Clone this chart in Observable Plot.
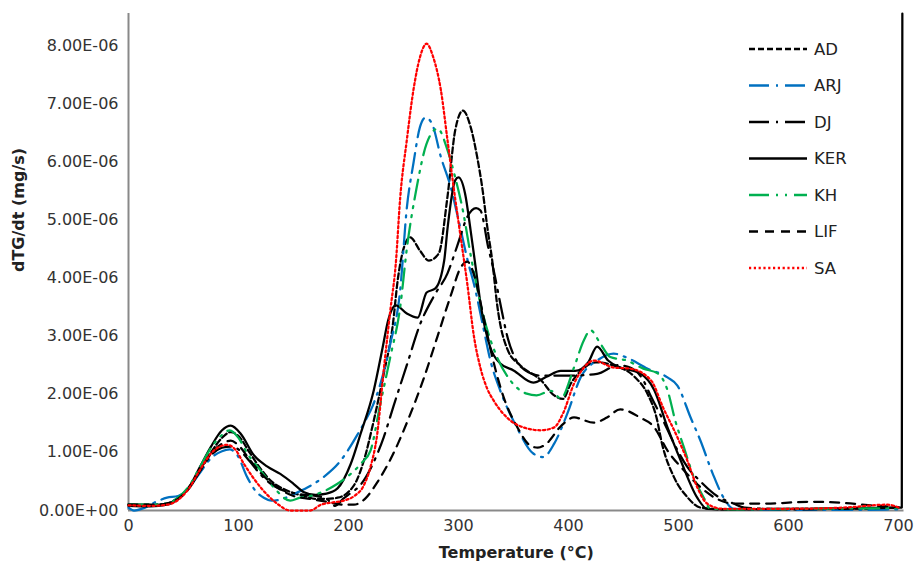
<!DOCTYPE html>
<html>
<head>
<meta charset="utf-8">
<script src="https://cdn.jsdelivr.net/npm/d3@7"></script>
<script src="https://cdn.jsdelivr.net/npm/@observablehq/plot@0.6"></script>
<style>
  body { margin: 0; background: #fff; }
  #wrap { position: relative; width: 917px; height: 567px; }
  #legend { position: absolute; left: 0; top: 0; }
</style>
</head>
<body>
<div id="wrap"></div>
<script>
// values in units of 1E-06 mg/s
const UNIT = 1e-6;
const seriesNames = ["AD", "ARJ", "DJ", "KER", "KH", "LIF", "SA"];

const AD_T = [0, 20, 35, 45, 55, 65, 75, 85, 93, 100, 110, 120, 130, 140, 150, 160, 170, 180, 190, 200, 207, 214, 223, 232, 240, 245, 250, 256, 265, 273, 282, 290, 297, 304, 311, 317, 322, 326, 331, 335, 345, 356, 375, 387, 395, 402, 414, 425, 440, 460, 472, 480, 485, 496, 508, 520, 540, 600, 650, 700];
const AD_V = [0.1, 0.09, 0.12, 0.22, 0.4, 0.7, 1.0, 1.25, 1.35, 1.28, 1.0, 0.72, 0.5, 0.38, 0.3, 0.25, 0.2, 0.2, 0.22, 0.32, 0.5, 0.86, 1.55, 2.35, 3.15, 4.0, 4.5, 4.7, 4.47, 4.3, 4.42, 5.4, 6.54, 6.88, 6.6, 6.08, 5.5, 4.9, 4.25, 3.56, 2.75, 2.5, 2.24, 1.98, 1.92, 2.18, 2.45, 2.55, 2.5, 2.3, 2.0, 1.6, 1.15, 0.57, 0.23, 0.05, 0.02, 0.03, 0.03, 0.05];

const ARJ_T = [0, 5, 15, 25, 35, 45, 55, 65, 75, 85, 92, 99, 108, 115, 123, 130, 140, 150, 163, 177, 193, 200, 208, 214, 222, 229, 238, 247, 253, 259, 265, 270, 276, 284, 293, 300, 309, 314, 322, 329, 338, 353, 368, 377, 387, 399, 411, 426, 441, 453, 472, 490, 499, 511, 520, 531, 541, 550, 600, 650, 700];
const ARJ_V = [0.05, 0.0, 0.05, 0.15, 0.22, 0.25, 0.4, 0.65, 0.9, 1.02, 1.05, 0.95, 0.57, 0.35, 0.22, 0.17, 0.2, 0.28, 0.4, 0.57, 0.86, 1.05, 1.3, 1.5, 1.8, 2.18, 2.87, 3.79, 5.2, 5.97, 6.6, 6.76, 6.65, 6.08, 5.56, 5.0, 4.25, 3.9, 3.2, 2.58, 2.06, 1.43, 0.98, 0.92, 1.15, 1.67, 2.29, 2.58, 2.7, 2.63, 2.44, 2.29, 2.15, 1.6, 1.2, 0.64, 0.22, 0.03, 0.01, 0.01, 0.02];

const DJ_T = [0, 20, 35, 45, 55, 65, 75, 85, 93, 100, 110, 120, 130, 140, 150, 160, 170, 180, 188, 195, 202, 210, 220, 232, 241, 253, 265, 278, 290, 299, 308, 316, 320, 327, 332, 338, 345, 352, 360, 375, 387, 400, 426, 445, 456, 468, 474, 486, 496, 508, 520, 535, 550, 560, 600, 650, 700];
const DJ_V = [0.1, 0.1, 0.12, 0.2, 0.38, 0.68, 0.95, 1.08, 1.1, 1.05, 0.85, 0.62, 0.45, 0.35, 0.3, 0.27, 0.25, 0.2, 0.08, 0.2, 0.3, 0.42, 0.72, 1.26, 1.8, 2.5, 3.2, 3.7, 4.08, 4.56, 5.05, 5.2, 5.16, 4.53, 4.13, 3.56, 2.95, 2.6, 2.42, 2.32, 2.32, 2.32, 2.35, 2.5, 2.46, 2.24, 2.0, 1.55, 1.15, 0.75, 0.5, 0.25, 0.12, 0.05, 0.02, 0.03, 0.05];

const KER_T = [0, 20, 35, 45, 55, 65, 75, 85, 93, 102, 114, 126, 138, 150, 159, 170, 180, 190, 202, 211, 223, 231, 236, 243, 253, 263, 271, 279, 287, 290, 297, 300, 306, 311, 316, 320, 329, 338, 350, 368, 380, 393, 406, 418, 426, 436, 447, 465, 478, 490, 502, 517, 526, 560, 620, 700, 703, 703.5];
const KER_V = [0.08, 0.07, 0.1, 0.2, 0.4, 0.75, 1.1, 1.38, 1.46, 1.32, 0.95, 0.76, 0.63, 0.46, 0.32, 0.27, 0.29, 0.38, 0.8, 1.32, 2.07, 2.8, 3.27, 3.53, 3.39, 3.32, 3.75, 3.82, 4.3, 4.85, 5.68, 5.73, 5.45, 4.82, 4.13, 3.56, 2.8, 2.53, 2.41, 2.2, 2.3, 2.4, 2.4, 2.55, 2.82, 2.58, 2.46, 2.36, 2.07, 1.43, 0.86, 0.22, 0.03, 0.02, 0.03, 0.05, 0.05, 8.55];

const KH_T = [0, 20, 35, 45, 55, 65, 75, 85, 92, 100, 108, 120, 132, 147, 156, 165, 175, 190, 202, 212, 220, 229, 238, 247, 253, 262, 271, 281, 290, 297, 304, 311, 323, 335, 347, 362, 371, 384, 393, 405, 414, 420, 429, 438, 453, 468, 481, 490, 497, 505, 514, 523, 529, 560, 620, 700];
const KH_V = [0.1, 0.1, 0.12, 0.22, 0.42, 0.75, 1.08, 1.3, 1.38, 1.25, 0.98, 0.69, 0.4, 0.17, 0.22, 0.25, 0.31, 0.46, 0.63, 0.82, 1.03, 1.84, 2.64, 3.5, 4.5, 5.56, 6.31, 6.57, 6.2, 5.73, 5.16, 4.4, 3.32, 2.64, 2.24, 2.01, 1.98, 2.06, 1.93, 2.46, 2.93, 3.1, 2.87, 2.64, 2.58, 2.44, 2.36, 2.07, 1.55, 1.08, 0.57, 0.22, 0.03, 0.02, 0.03, 0.04];

const LIF_T = [0, 20, 35, 45, 55, 65, 75, 85, 93, 100, 110, 120, 135, 150, 165, 180, 195, 205, 215, 226, 240, 255, 268, 281, 293, 302, 308, 315, 322, 330, 341, 353, 365, 372, 380, 393, 405, 423, 435, 447, 465, 478, 490, 505, 520, 535, 550, 580, 620, 650, 680, 700];
const LIF_V = [0.1, 0.1, 0.12, 0.2, 0.38, 0.68, 0.98, 1.15, 1.2, 1.12, 0.88, 0.65, 0.4, 0.25, 0.2, 0.15, 0.1, 0.1, 0.2, 0.48, 0.95, 1.6, 2.25, 3.0, 3.7, 4.18, 4.28, 4.0, 3.4, 2.7, 1.95, 1.45, 1.12, 1.08, 1.15, 1.45, 1.6, 1.51, 1.6, 1.74, 1.6, 1.43, 1.03, 0.69, 0.4, 0.2, 0.12, 0.12, 0.15, 0.13, 0.08, 0.06];

const SA_T = [0, 20, 35, 45, 55, 65, 75, 83, 90, 97, 105, 120, 135, 147, 155, 165, 175, 186, 196, 206, 213, 220, 226, 232, 238, 243, 247, 253, 259, 265, 271, 277, 284, 290, 296, 302, 308, 314, 320, 326, 332, 344, 359, 375, 387, 395, 405, 414, 423, 441, 456, 475, 486, 499, 508, 517, 526, 540, 600, 650, 690, 700];
const SA_V = [0.09, 0.08, 0.1, 0.18, 0.38, 0.7, 0.98, 1.1, 1.13, 1.05, 0.8, 0.4, 0.12, 0.0, 0.0, 0.0, 0.1, 0.14, 0.17, 0.26, 0.4, 0.75, 1.3, 2.41, 3.44, 4.25, 5.38, 6.37, 7.23, 7.8, 8.03, 7.8, 7.23, 6.37, 5.5, 4.7, 3.9, 3.0, 2.45, 2.1, 1.89, 1.6, 1.43, 1.38, 1.43, 1.67, 2.18, 2.46, 2.58, 2.46, 2.44, 2.24, 1.77, 1.26, 0.86, 0.4, 0.12, 0.03, 0.03, 0.05, 0.1, 0.05];

const xTicks = [0, 100, 200, 300, 400, 500, 600, 700];
const yTicks = [0, 1, 2, 3, 4, 5, 6, 7, 8].map(d => d * UNIT);

const styles = {
  AD:  {stroke: "#000000", dash: "6,3"},
  ARJ: {stroke: "#0070C0", dash: "20,7,2,7"},
  DJ:  {stroke: "#000000", dash: "20,7,2,7"},
  KER: {stroke: "#000000", dash: null},
  KH:  {stroke: "#00B050", dash: "20,7,2,7,2,7"},
  LIF: {stroke: "#000000", dash: "9,7"},
  SA:  {stroke: "#FF0000", dash: "2.2,2.6"}
};

const raw = {
  AD: [AD_T, AD_V], ARJ: [ARJ_T, ARJ_V], DJ: [DJ_T, DJ_V], KER: [KER_T, KER_V],
  KH: [KH_T, KH_V], LIF: [LIF_T, LIF_V], SA: [SA_T, SA_V]
};

const fmt = v => {
  const s = (Math.abs(v) < 1e-15 ? 0 : v).toExponential(2).toUpperCase();
  return s.replace(/E([+-])(\d)$/, "E$10$2");
};

const lineMarks = seriesNames.map(name => {
  const [T, V] = raw[name];
  const rows = T.map((t, i) => ({t, v: V[i] * UNIT}));
  const st = styles[name];
  const opts = {x: "t", y: "v", stroke: st.stroke, strokeWidth: 2.25, curve: "monotone-x"};
  if (st.dash) opts.strokeDasharray = st.dash;
  return Plot.line(rows, opts);
});

const chart = Plot.plot({
  width: 917,
  height: 567,
  marginLeft: 128,
  marginRight: 13.5,
  marginTop: 13,
  marginBottom: 57,
  x: {domain: [0, 705]},
  y: {domain: [0, 8.55e-6]},
  style: {fontFamily: "DejaVu Sans", fontSize: "16px", color: "#333", background: "white"},
  marks: [
    Plot.ruleX([0], {stroke: "#898989", strokeWidth: 2}),
    Plot.ruleY([0], {stroke: "#898989", strokeWidth: 2}),
    Plot.axisX({ticks: xTicks, tickSize: 0, tickPadding: 9, label: null, tickFormat: d => String(d), fontSize: 16}),
    Plot.axisY({ticks: yTicks, tickSize: 0, tickPadding: 10, label: null, tickFormat: fmt, fontSize: 16}),
    ...lineMarks,
    Plot.text(["Temperature (°C)"], {text: d => d, frameAnchor: "bottom", dy: 47, fontWeight: "bold", fontSize: 16, fill: "#222"}),
    Plot.text(["dTG/dt (mg/s)"], {text: d => d, frameAnchor: "left", dx: -110, dy: 10, rotate: -90, fontWeight: "bold", fontSize: 16, fill: "#222"})
  ]
});

const wrap = document.getElementById("wrap");
wrap.appendChild(chart);

// legend overlay
const leg = d3.select(wrap).append("svg")
  .attr("id", "legend")
  .attr("width", 917).attr("height", 567)
  .style("pointer-events", "none");
const rowY = d3.scalePoint().domain(seriesNames).range([49, 268]);
seriesNames.forEach(name => {
  const st = styles[name];
  const y = rowY(name);
  const ln = leg.append("line")
    .attr("x1", 749).attr("x2", 807).attr("y1", y).attr("y2", y)
    .attr("stroke", st.stroke).attr("stroke-width", 2.5);
  if (st.dash) ln.attr("stroke-dasharray", st.dash);
  leg.append("text")
    .attr("x", 814).attr("y", y)
    .attr("dy", "0.36em")
    .attr("font-family", "DejaVu Sans")
    .attr("font-size", 16.5)
    .attr("fill", "#222")
    .text(name);
});
</script>
</body>
</html>
